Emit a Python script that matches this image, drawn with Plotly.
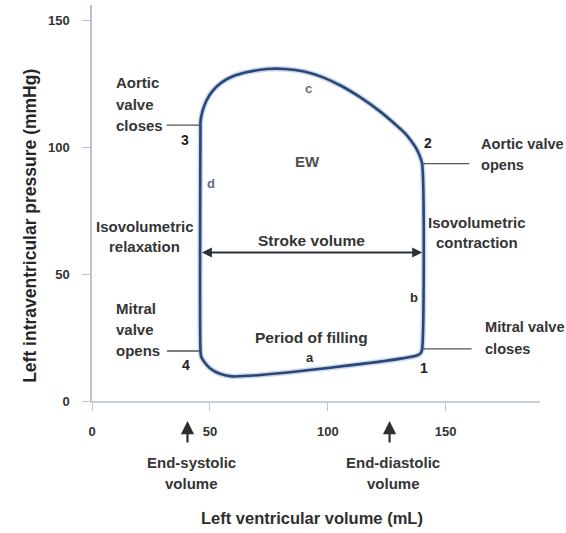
import plotly.graph_objects as go

# Left ventricular pressure-volume loop, traced 1 -> 2 -> 3 -> 4 -> 1
loop_volume = [140, 140, 139, 137.5, 135.5, 132.5, 128, 122, 114, 106, 98, 90, 82, 74,
               66.5, 60, 55, 51, 48.5, 46.8, 46, 46,
               46, 46.3, 47.7, 50.3, 54, 59.5, 138, 139.5, 140]
loop_pressure = [20.5, 93.5, 96.5, 99.5, 102.3, 105.7, 109.5, 114.2, 119.5, 124, 127.5, 129.8, 130.8, 130.8,
                 129.7, 128, 125.5, 122, 118.3, 114, 110, 108.7,
                 20, 17.5, 15.3, 12.7, 10.8, 9.7, 18, 19, 20.5]

# Valve events (numbered corners of the loop)
event_labels = ["1", "2", "3", "4"]
event_volume = [140, 140, 46, 46]
event_pressure = [20.5, 93.5, 108.7, 19.7]

end_systolic_volume = 46
end_diastolic_volume = 140
stroke_arrow_pressure = 58.5

x_ticks = [0, 50, 100, 150]
y_ticks = [0, 50, 100, 150]

FONT = "Liberation Sans"
TEXT = "#353535"
LOOP = "#2a4674"

# plot-area geometry, used to place captions that sit outside the axes
MARGIN = dict(l=92, r=26, t=5, b=132)
FIG_W, FIG_H = 566, 533
AREA_H = FIG_H - MARGIN["t"] - MARGIN["b"]
AREA_W = FIG_W - MARGIN["l"] - MARGIN["r"]

fig = go.Figure()

# soft halo under the loop outline
fig.add_trace(go.Scatter(x=loop_volume, y=loop_pressure, mode="lines",
                         line=dict(color="rgba(110,145,200,0.35)", width=5.5,
                                   shape="spline", smoothing=0.8),
                         hoverinfo="skip"))
fig.add_trace(go.Scatter(x=loop_volume, y=loop_pressure, mode="lines",
                         line=dict(color=LOOP, width=2.6, shape="spline", smoothing=0.8),
                         hoverinfo="skip"))

# leader lines from the valve-event captions to the loop corners
leader_reach = [161, 160, 31.6, 31.8]
for vx, py, reach in zip(event_volume, event_pressure, leader_reach):
    fig.add_trace(go.Scatter(x=[vx, reach], y=[py, py], mode="lines",
                             line=dict(color="#555555", width=1.3), hoverinfo="skip"))

annotations = []


def text(s, x, y, size=15, color=TEXT, xanchor="center", yanchor="middle",
         xref="x", yref="y", **kw):
    annotations.append(dict(text=s, x=x, y=y, xref=xref, yref=yref, showarrow=False,
                            xanchor=xanchor, yanchor=yanchor,
                            font=dict(family=FONT, size=size, color=color, weight="bold"),
                            **kw))


def lines(rows, x, y0, step, xanchor, yref="y", size=15):
    for i, r in enumerate(rows):
        text(r, x, y0 - i * step, xanchor=xanchor, yref=yref, size=size)


def below(px):
    """Paper y for a pixel row below the plot area."""
    return (FIG_H - MARGIN["b"] - px) / AREA_H


# stroke volume double arrow
annotations.append(dict(x=end_diastolic_volume, y=stroke_arrow_pressure,
                        ax=end_systolic_volume, ay=stroke_arrow_pressure,
                        xref="x", yref="y", axref="x", ayref="y", text="",
                        showarrow=True, arrowhead=2, arrowside="end+start",
                        arrowsize=1.1, arrowwidth=1.8, arrowcolor="#2a2f3a"))

# numbered corners
num_pos = [(140.6, 13), (142.3, 101.7), (39.5, 102.8), (40, 14.2)]
for lab, (nx, ny) in zip(event_labels, num_pos):
    text(lab, nx, ny, size=14, color="#222222")

# valve event captions, one line per row
lines(["Aortic", "valve", "closes"], 9.5, 125.3, 8.4, "left")
lines(["Mitral", "valve", "opens"], 9.5, 36.6, 8.4, "left")
lines(["Aortic valve", "opens"], 164.2, 101.3, 8.5, "left", size=14.6)
lines(["Mitral valve", "closes"], 165.8, 29.2, 8.6, "left", size=14.6)
lines(["Isovolumetric", "relaxation"], 22.3, 68.6, 7.9, "center")
lines(["Isovolumetric", "contraction"], 163.2, 70.5, 8.2, "center")

text("Stroke volume", 92.9, 63.4, size=15.5)
text("Period of filling", 92.9, 25.2, size=15.5)
text("EW", 91.6, 94.3, color="#505050")
text("c", 92, 123, size=13, color="#5d7088")
text("d", 50.6, 85.8, size=13, color="#5d7088")
text("b", 136.4, 40.6, size=13, color="#2d2d2d")
text("a", 92.6, 17, size=13, color="#2d2d2d")

# volume markers below the axis
for vx, cap in [(40.5, ["End-systolic", "volume"]), (126.2, ["End-diastolic", "volume"])]:
    annotations.append(dict(x=vx, y=below(421), ax=0, ay=23, xref="x", yref="paper",
                            axref="pixel", ayref="pixel", text="", showarrow=True,
                            arrowhead=2, arrowsize=1.2, arrowwidth=2.2, arrowcolor="#2e2e2e"))
    text(cap[0], vx + 1.5, below(462), xanchor="center", yref="paper")
    text(cap[1], vx + 1.5, below(483), xanchor="center", yref="paper")

text("Left ventricular volume (mL)", 93.5, below(518), size=16.5, yref="paper",
     color="#2e2e2e")
annotations.append(dict(text="Left intraventricular pressure (mmHg)",
                        x=(18 - MARGIN["l"]) / AREA_W, y=69,
                        xref="paper", yref="y", showarrow=False, textangle=-90,
                        font=dict(family=FONT, size=17.5, color="#262626", weight="bold")))

axis_font = dict(family=FONT, size=13, color="#333333", weight="bold")

fig.update_layout(
    width=FIG_W, height=FIG_H,
    margin=MARGIN,
    plot_bgcolor="white", paper_bgcolor="white",
    showlegend=False,
    annotations=annotations,
    xaxis=dict(range=[0, 190], tickvals=x_ticks, showgrid=False, zeroline=False,
               showline=True, linecolor="#c9cfd8", linewidth=1.5,
               ticks="outside", ticklen=8, tickcolor="#bfc5ce", tickwidth=1.3,
               tickfont=axis_font, ticklabelstandoff=10),
    yaxis=dict(range=[0, 156], tickvals=y_ticks, showgrid=False, zeroline=False,
               showline=True, linecolor="#b7c3d6", linewidth=1.5,
               ticks="outside", ticklen=8, tickcolor="#bfc5ce", tickwidth=1.3,
               tickfont=axis_font, ticklabelstandoff=10),
)

fig.write_html("out.html")
